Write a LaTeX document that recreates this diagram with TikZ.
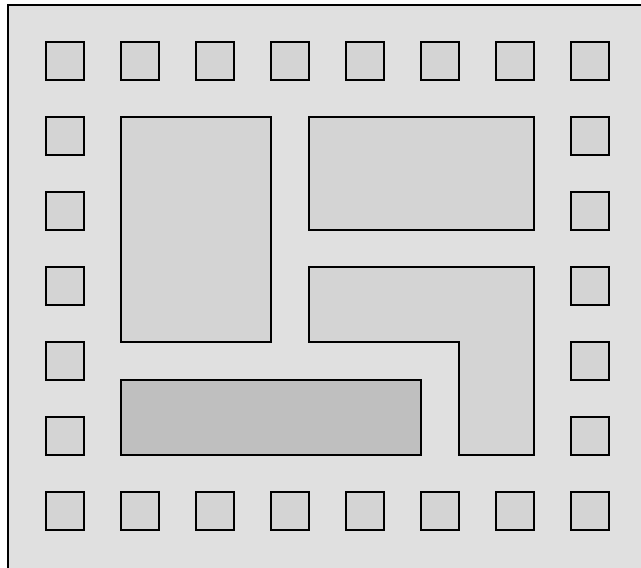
\documentclass[tikz,border=0pt]{standalone}
\usepackage{tikz}

\definecolor{diegray}{rgb}{0.88, 0.88, 0.88}
\definecolor{padgray}{rgb}{0.83, 0.83, 0.83}
\definecolor{silvergray}{rgb}{0.75, 0.75, 0.75}

\tikzset{
  die/.style={draw=black, fill=diegray, line width=1.2pt},
  pad/.style={draw=black, fill=padgray, line width=0.6pt},
  macro/.style={draw=black, fill=padgray, line width=0.6pt},
  macrodark/.style={draw=black, fill=silvergray, line width=0.6pt},
}

\begin{document}
\begin{tikzpicture}[x=0.02cm, y=-0.02cm]
% Page frame (picture runs past the right and bottom edges)
\useasboundingbox (0, 0) rectangle (641, 567);
\clip (0, 0) rectangle (641, 567);

% =:=:=:=:=:=:=:=:=:=:=:=:=:=:=:=:=:=:=
% Die outline
% =:=:=:=:=:=:=:=:=:=:=:=:=:=:=:=:=:=:=
\draw[die] (8, 5) rectangle (660, 590);

% =:=:=:=:=:=:=:=:=:=:=:=:=:=:=:=:=:=:=
% I/O pads, top and bottom rows
% =:=:=:=:=:=:=:=:=:=:=:=:=:=:=:=:=:=:=
\foreach \i in {0,...,7} {
  \draw[pad] (46+75*\i, 42) rectangle ++(38, 38);
  \draw[pad] (46+75*\i, 492) rectangle ++(38, 38);
}

% =:=:=:=:=:=:=:=:=:=:=:=:=:=:=:=:=:=:=
% I/O pads, left and right columns
% =:=:=:=:=:=:=:=:=:=:=:=:=:=:=:=:=:=:=
\foreach \j in {1,...,5} {
  \draw[pad] (46, 42+75*\j) rectangle ++(38, 38);
  \draw[pad] (571, 42+75*\j) rectangle ++(38, 38);
}

% =:=:=:=:=:=:=:=:=:=:=:=:=:=:=:=:=:=:=
% Core blocks
% =:=:=:=:=:=:=:=:=:=:=:=:=:=:=:=:=:=:=
% tall block, left
\draw[macro] (121, 117) rectangle (271, 342);
% wide block, top right
\draw[macro] (309, 117) rectangle (534, 230);
% L-shaped block
\draw[macro]
    (309, 267) -- (534, 267) -- (534, 455) -- (459, 455)
    -- (459, 342) -- (309, 342) -- cycle;
% darker block, bottom
\draw[macrodark] (121, 380) rectangle (421, 455);

\end{tikzpicture}
\end{document}
